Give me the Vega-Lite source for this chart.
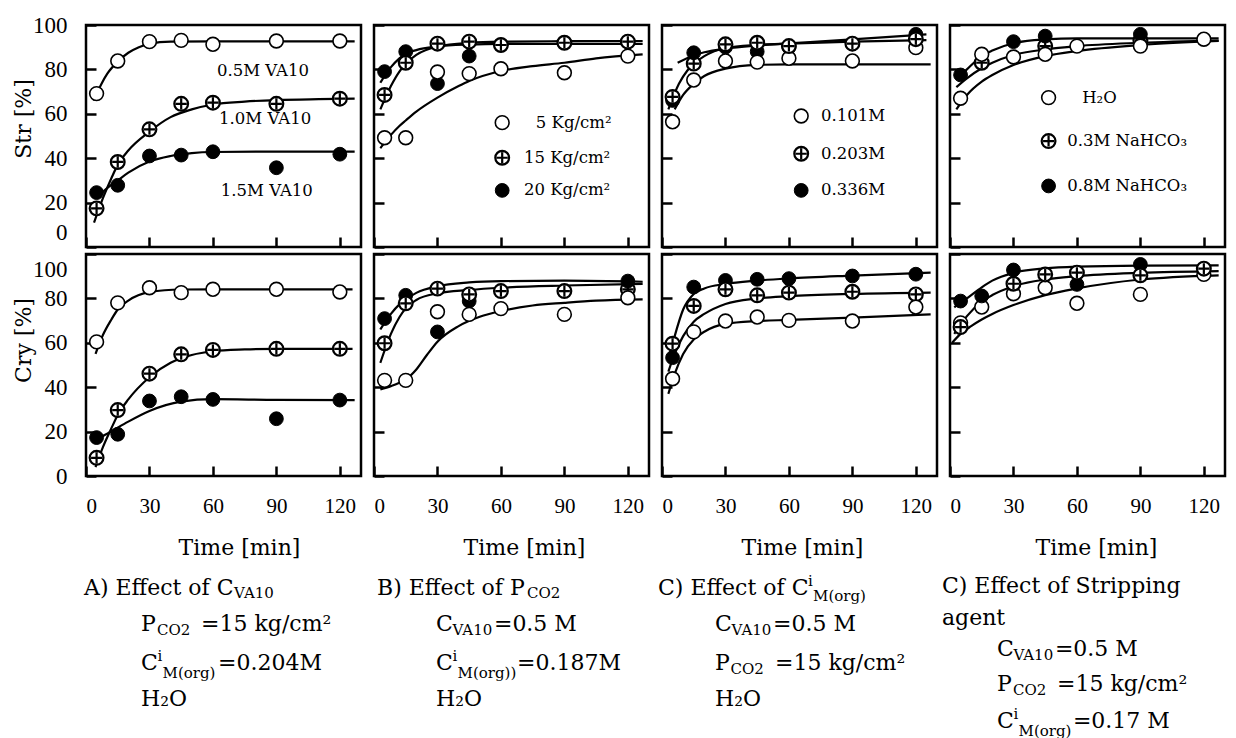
{
"$schema":"https://vega.github.io/schema/vega-lite/v6.json",
"background":"white",
"padding":{"left":11,"top":12,"right":5,"bottom":0},
"bounds":"flush",
"spacing":{"row":7,"column":13},
"columns":4,
"config":{
 "font":"DejaVu Serif",
 "view":{"stroke":"black","strokeWidth":2.5,"fill":"white"},
 "style":{"guide-label":{"font":"Liberation Serif","fill":"black"},"guide-title":{"font":"DejaVu Serif","fontWeight":"normal","fill":"black"}},
 "axis":{"domain":false,"grid":false,"ticks":true,"tickSize":-10,"tickWidth":2.5,"tickColor":"black","labelColor":"black","labelFont":"Liberation Serif","titleFont":"DejaVu Serif","titleFontWeight":"normal","titleColor":"black","titleFontSize":22},
 "axisX":{"labelFontSize":21,"labelPadding":29,"labelFont":"Liberation Serif","titleFont":"DejaVu Serif","titleFontWeight":"normal"},
 "axisY":{"labelFontSize":23,"labelPadding":29,"labelFont":"Liberation Serif","titleFont":"DejaVu Serif","titleFontWeight":"normal"}
},
"datasets":{"d":[
{"p":"A1","k":"c","s":"o","t":3.5,"v":66},{"p":"A1","k":"c","s":"o","t":10,"v":78},{"p":"A1","k":"c","s":"o","t":15,"v":83.5},{"p":"A1","k":"c","s":"o","t":20,"v":87.5},{"p":"A1","k":"c","s":"o","t":25,"v":90},{"p":"A1","k":"c","s":"o","t":30,"v":91.5},{"p":"A1","k":"c","s":"o","t":40,"v":92.5},{"p":"A1","k":"c","s":"o","t":60,"v":92.6},{"p":"A1","k":"c","s":"o","t":90,"v":92.6},{"p":"A1","k":"c","s":"o","t":127,"v":92.6},
{"p":"A1","k":"c","s":"x","t":3.8,"v":11},{"p":"A1","k":"c","s":"x","t":8,"v":22},{"p":"A1","k":"c","s":"x","t":12,"v":31},{"p":"A1","k":"c","s":"x","t":15,"v":37},{"p":"A1","k":"c","s":"x","t":20,"v":43.5},{"p":"A1","k":"c","s":"x","t":30,"v":52},{"p":"A1","k":"c","s":"x","t":40,"v":58.5},{"p":"A1","k":"c","s":"x","t":50,"v":62},{"p":"A1","k":"c","s":"x","t":60,"v":64.2},{"p":"A1","k":"c","s":"x","t":75,"v":65.5},{"p":"A1","k":"c","s":"x","t":90,"v":66.2},{"p":"A1","k":"c","s":"x","t":110,"v":66.6},{"p":"A1","k":"c","s":"x","t":127,"v":66.8},
{"p":"A1","k":"c","s":"f","t":5,"v":22},{"p":"A1","k":"c","s":"f","t":10,"v":26.5},{"p":"A1","k":"c","s":"f","t":15,"v":30},{"p":"A1","k":"c","s":"f","t":20,"v":33.5},{"p":"A1","k":"c","s":"f","t":30,"v":38.5},{"p":"A1","k":"c","s":"f","t":40,"v":41},{"p":"A1","k":"c","s":"f","t":50,"v":42.3},{"p":"A1","k":"c","s":"f","t":60,"v":42.8},{"p":"A1","k":"c","s":"f","t":90,"v":43},{"p":"A1","k":"c","s":"f","t":127,"v":43},
{"p":"A1","k":"p","s":"f","t":5,"v":24.5},{"p":"A1","k":"p","s":"f","t":15,"v":27.8},{"p":"A1","k":"p","s":"f","t":30,"v":41},{"p":"A1","k":"p","s":"f","t":45,"v":41.4},{"p":"A1","k":"p","s":"f","t":60,"v":42.9},{"p":"A1","k":"p","s":"f","t":90,"v":35.7},{"p":"A1","k":"p","s":"f","t":120,"v":41.8},
{"p":"A1","k":"p","s":"x","t":5,"v":17.4},{"p":"A1","k":"p","s":"x","t":15,"v":38.3},{"p":"A1","k":"p","s":"x","t":30,"v":53},{"p":"A1","k":"p","s":"x","t":45,"v":64.5},{"p":"A1","k":"p","s":"x","t":60,"v":65},{"p":"A1","k":"p","s":"x","t":90,"v":64.5},{"p":"A1","k":"p","s":"x","t":120,"v":66.8},
{"p":"A1","k":"p","s":"o","t":5,"v":69.1},{"p":"A1","k":"p","s":"o","t":15,"v":83.8},{"p":"A1","k":"p","s":"o","t":30,"v":92.5},{"p":"A1","k":"p","s":"o","t":45,"v":93.1},{"p":"A1","k":"p","s":"o","t":60,"v":91.3},{"p":"A1","k":"p","s":"o","t":90,"v":92.8},{"p":"A1","k":"p","s":"o","t":120,"v":92.8},
{"p":"A1","k":"kt","t":61.9,"v":79.3,"txt":"0.5M VA10"},{"p":"A1","k":"kt","t":62.9,"v":57.5,"txt":"1.0M VA10"},{"p":"A1","k":"kt","t":63.7,"v":25.2,"txt":"1.5M VA10"},

{"p":"B1","k":"c","s":"o","t":3,"v":44.5},{"p":"B1","k":"c","s":"o","t":8,"v":50.5},{"p":"B1","k":"c","s":"o","t":12,"v":54.5},{"p":"B1","k":"c","s":"o","t":15,"v":57},{"p":"B1","k":"c","s":"o","t":20,"v":61},{"p":"B1","k":"c","s":"o","t":30,"v":67.3},{"p":"B1","k":"c","s":"o","t":40,"v":72.5},{"p":"B1","k":"c","s":"o","t":45,"v":74.8},{"p":"B1","k":"c","s":"o","t":60,"v":79.3},{"p":"B1","k":"c","s":"o","t":75,"v":81.5},{"p":"B1","k":"c","s":"o","t":90,"v":83},{"p":"B1","k":"c","s":"o","t":105,"v":85},{"p":"B1","k":"c","s":"o","t":127,"v":86.8},
{"p":"B1","k":"c","s":"f","t":3,"v":74},{"p":"B1","k":"c","s":"f","t":8,"v":81},{"p":"B1","k":"c","s":"f","t":12,"v":85},{"p":"B1","k":"c","s":"f","t":15,"v":87},{"p":"B1","k":"c","s":"f","t":20,"v":88.7},{"p":"B1","k":"c","s":"f","t":30,"v":90.3},{"p":"B1","k":"c","s":"f","t":45,"v":91.2},{"p":"B1","k":"c","s":"f","t":60,"v":91.5},{"p":"B1","k":"c","s":"f","t":90,"v":91.5},{"p":"B1","k":"c","s":"f","t":127,"v":91.5},
{"p":"B1","k":"c","s":"x","t":3,"v":62},{"p":"B1","k":"c","s":"x","t":8,"v":72.5},{"p":"B1","k":"c","s":"x","t":12,"v":79},{"p":"B1","k":"c","s":"x","t":15,"v":82.5},{"p":"B1","k":"c","s":"x","t":20,"v":86.5},{"p":"B1","k":"c","s":"x","t":30,"v":90.3},{"p":"B1","k":"c","s":"x","t":45,"v":92},{"p":"B1","k":"c","s":"x","t":60,"v":92.5},{"p":"B1","k":"c","s":"x","t":90,"v":92.7},{"p":"B1","k":"c","s":"x","t":127,"v":92.8},
{"p":"B1","k":"p","s":"f","t":5,"v":79},{"p":"B1","k":"p","s":"f","t":15,"v":88},{"p":"B1","k":"p","s":"f","t":30,"v":73.6},{"p":"B1","k":"p","s":"f","t":45,"v":86},{"p":"B1","k":"p","s":"f","t":60,"v":91},{"p":"B1","k":"p","s":"f","t":90,"v":92},{"p":"B1","k":"p","s":"f","t":120,"v":92.5},
{"p":"B1","k":"p","s":"o","t":5,"v":49.2},{"p":"B1","k":"p","s":"o","t":15,"v":49.2},{"p":"B1","k":"p","s":"o","t":30,"v":78.8},{"p":"B1","k":"p","s":"o","t":45,"v":78.1},{"p":"B1","k":"p","s":"o","t":60,"v":80.3},{"p":"B1","k":"p","s":"o","t":90,"v":78.5},{"p":"B1","k":"p","s":"o","t":120,"v":86},
{"p":"B1","k":"p","s":"x","t":5,"v":68.5},{"p":"B1","k":"p","s":"x","t":15,"v":83},{"p":"B1","k":"p","s":"x","t":30,"v":91.6},{"p":"B1","k":"p","s":"x","t":45,"v":92.5},{"p":"B1","k":"p","s":"x","t":60,"v":91},{"p":"B1","k":"p","s":"x","t":90,"v":92},{"p":"B1","k":"p","s":"x","t":120,"v":92.5},
{"p":"B1","k":"p","s":"o","t":60.6,"v":56},{"p":"B1","k":"p","s":"x","t":60.6,"v":40.2},{"p":"B1","k":"p","s":"f","t":60.6,"v":25.5},
{"p":"B1","k":"kt","t":76.5,"v":56,"txt":"5 Kg/cm²"},{"p":"B1","k":"kt","t":70.9,"v":40.2,"txt":"15 Kg/cm²"},{"p":"B1","k":"kt","t":70.9,"v":25.5,"txt":"20 Kg/cm²"},

{"p":"C1","k":"c","s":"o","t":6,"v":62},{"p":"C1","k":"c","s":"o","t":10,"v":68.5},{"p":"C1","k":"c","s":"o","t":15,"v":73.5},{"p":"C1","k":"c","s":"o","t":20,"v":77},{"p":"C1","k":"c","s":"o","t":30,"v":80.3},{"p":"C1","k":"c","s":"o","t":45,"v":82},{"p":"C1","k":"c","s":"o","t":60,"v":82.3},{"p":"C1","k":"c","s":"o","t":90,"v":82.3},{"p":"C1","k":"c","s":"o","t":127,"v":82.3},
{"p":"C1","k":"c","s":"x","t":3,"v":62},{"p":"C1","k":"c","s":"x","t":8,"v":73.5},{"p":"C1","k":"c","s":"x","t":12,"v":79.5},{"p":"C1","k":"c","s":"x","t":15,"v":82.5},{"p":"C1","k":"c","s":"x","t":20,"v":86},{"p":"C1","k":"c","s":"x","t":30,"v":89.6},{"p":"C1","k":"c","s":"x","t":45,"v":91},{"p":"C1","k":"c","s":"x","t":60,"v":91.6},{"p":"C1","k":"c","s":"x","t":90,"v":92.5},{"p":"C1","k":"c","s":"x","t":125,"v":93.2},
{"p":"C1","k":"c","s":"f","t":7.4,"v":83},{"p":"C1","k":"c","s":"f","t":15,"v":86.3},{"p":"C1","k":"c","s":"f","t":20,"v":87.7},{"p":"C1","k":"c","s":"f","t":30,"v":89.4},{"p":"C1","k":"c","s":"f","t":45,"v":90.8},{"p":"C1","k":"c","s":"f","t":60,"v":91.7},{"p":"C1","k":"c","s":"f","t":90,"v":93.5},{"p":"C1","k":"c","s":"f","t":125,"v":95.8},
{"p":"C1","k":"p","s":"x","t":15,"v":82.6},
{"p":"C1","k":"p","s":"f","t":5,"v":66},{"p":"C1","k":"p","s":"f","t":15,"v":87.5},{"p":"C1","k":"p","s":"f","t":30,"v":90},{"p":"C1","k":"p","s":"f","t":45,"v":88},{"p":"C1","k":"p","s":"f","t":60,"v":90},{"p":"C1","k":"p","s":"f","t":90,"v":91.5},{"p":"C1","k":"p","s":"f","t":120,"v":95.8},
{"p":"C1","k":"p","s":"o","t":5,"v":56.4},{"p":"C1","k":"p","s":"o","t":15,"v":75.2},{"p":"C1","k":"p","s":"o","t":30,"v":83.8},{"p":"C1","k":"p","s":"o","t":45,"v":83.3},{"p":"C1","k":"p","s":"o","t":60,"v":85},{"p":"C1","k":"p","s":"o","t":90,"v":83.8},{"p":"C1","k":"p","s":"o","t":120,"v":89.8},
{"p":"C1","k":"p","s":"x","t":5,"v":67.6},{"p":"C1","k":"p","s":"x","t":30,"v":91.3},{"p":"C1","k":"p","s":"x","t":45,"v":92},{"p":"C1","k":"p","s":"x","t":60,"v":90.5},{"p":"C1","k":"p","s":"x","t":90,"v":91.6},{"p":"C1","k":"p","s":"x","t":120,"v":93.6},
{"p":"C1","k":"p","s":"o","t":65.8,"v":59},{"p":"C1","k":"p","s":"x","t":65.8,"v":42},{"p":"C1","k":"p","s":"f","t":65.8,"v":25.5},
{"p":"C1","k":"kt","t":75.2,"v":59,"txt":"0.101M"},{"p":"C1","k":"kt","t":75.2,"v":42,"txt":"0.203M"},{"p":"C1","k":"kt","t":75.2,"v":25.5,"txt":"0.336M"},

{"p":"D1","k":"c","s":"f","t":3,"v":75.5},{"p":"D1","k":"c","s":"f","t":8,"v":80},{"p":"D1","k":"c","s":"f","t":15,"v":86},{"p":"D1","k":"c","s":"f","t":20,"v":88.5},{"p":"D1","k":"c","s":"f","t":30,"v":91.8},{"p":"D1","k":"c","s":"f","t":45,"v":93.5},{"p":"D1","k":"c","s":"f","t":60,"v":94},{"p":"D1","k":"c","s":"f","t":90,"v":94},{"p":"D1","k":"c","s":"f","t":127,"v":94},
{"p":"D1","k":"c","s":"x","t":3,"v":72},{"p":"D1","k":"c","s":"x","t":8,"v":76},{"p":"D1","k":"c","s":"x","t":15,"v":80.5},{"p":"D1","k":"c","s":"x","t":20,"v":83},{"p":"D1","k":"c","s":"x","t":30,"v":86.5},{"p":"D1","k":"c","s":"x","t":45,"v":89},{"p":"D1","k":"c","s":"x","t":60,"v":90.5},{"p":"D1","k":"c","s":"x","t":90,"v":92},{"p":"D1","k":"c","s":"x","t":127,"v":93},
{"p":"D1","k":"c","s":"o","t":3,"v":62},{"p":"D1","k":"c","s":"o","t":8,"v":68.5},{"p":"D1","k":"c","s":"o","t":15,"v":74.5},{"p":"D1","k":"c","s":"o","t":20,"v":77.5},{"p":"D1","k":"c","s":"o","t":30,"v":82},{"p":"D1","k":"c","s":"o","t":45,"v":86},{"p":"D1","k":"c","s":"o","t":60,"v":88.3},{"p":"D1","k":"c","s":"o","t":90,"v":91},{"p":"D1","k":"c","s":"o","t":127,"v":92.8},
{"p":"D1","k":"p","s":"x","t":15,"v":83},{"p":"D1","k":"p","s":"x","t":45,"v":90.5},{"p":"D1","k":"p","s":"x","t":90,"v":93},
{"p":"D1","k":"p","s":"f","t":5,"v":77.5},{"p":"D1","k":"p","s":"f","t":30,"v":92.5},{"p":"D1","k":"p","s":"f","t":45,"v":95},{"p":"D1","k":"p","s":"f","t":90,"v":95.8},
{"p":"D1","k":"p","s":"o","t":5,"v":67},{"p":"D1","k":"p","s":"o","t":15,"v":86.8},{"p":"D1","k":"p","s":"o","t":30,"v":85.6},{"p":"D1","k":"p","s":"o","t":45,"v":86.8},{"p":"D1","k":"p","s":"o","t":60,"v":90.5},{"p":"D1","k":"p","s":"o","t":90,"v":90.5},{"p":"D1","k":"p","s":"o","t":120,"v":93.6},
{"p":"D1","k":"p","s":"o","t":46.6,"v":67.3},{"p":"D1","k":"p","s":"x","t":46.6,"v":47.7},{"p":"D1","k":"p","s":"f","t":46.6,"v":27.5},
{"p":"D1","k":"kt","t":62.5,"v":67.3,"txt":"H₂O"},{"p":"D1","k":"kt","t":55.4,"v":47.7,"txt":"0.3M NaHCO₃"},{"p":"D1","k":"kt","t":55.4,"v":27.5,"txt":"0.8M NaHCO₃"},

{"p":"A2","k":"c","s":"o","t":4.5,"v":55},{"p":"A2","k":"c","s":"o","t":8,"v":63.5},{"p":"A2","k":"c","s":"o","t":12,"v":70.5},{"p":"A2","k":"c","s":"o","t":15,"v":75},{"p":"A2","k":"c","s":"o","t":20,"v":79},{"p":"A2","k":"c","s":"o","t":30,"v":82.8},{"p":"A2","k":"c","s":"o","t":45,"v":84},{"p":"A2","k":"c","s":"o","t":60,"v":84.1},{"p":"A2","k":"c","s":"o","t":90,"v":84.1},{"p":"A2","k":"c","s":"o","t":126,"v":84.1},
{"p":"A2","k":"c","s":"x","t":4.5,"v":4},{"p":"A2","k":"c","s":"x","t":8,"v":13},{"p":"A2","k":"c","s":"x","t":12,"v":21.5},{"p":"A2","k":"c","s":"x","t":15,"v":27.5},{"p":"A2","k":"c","s":"x","t":20,"v":34.5},{"p":"A2","k":"c","s":"x","t":30,"v":44.5},{"p":"A2","k":"c","s":"x","t":40,"v":51},{"p":"A2","k":"c","s":"x","t":50,"v":54.5},{"p":"A2","k":"c","s":"x","t":60,"v":56.2},{"p":"A2","k":"c","s":"x","t":75,"v":57},{"p":"A2","k":"c","s":"x","t":90,"v":57.3},{"p":"A2","k":"c","s":"x","t":126,"v":57.3},
{"p":"A2","k":"c","s":"f","t":5,"v":16.5},{"p":"A2","k":"c","s":"f","t":10,"v":19},{"p":"A2","k":"c","s":"f","t":15,"v":21.8},{"p":"A2","k":"c","s":"f","t":20,"v":24.5},{"p":"A2","k":"c","s":"f","t":30,"v":29.3},{"p":"A2","k":"c","s":"f","t":45,"v":33.5},{"p":"A2","k":"c","s":"f","t":60,"v":34.6},{"p":"A2","k":"c","s":"f","t":90,"v":34.3},{"p":"A2","k":"c","s":"f","t":127,"v":34.2},
{"p":"A2","k":"p","s":"f","t":5,"v":17.3},{"p":"A2","k":"p","s":"f","t":15,"v":18.8},{"p":"A2","k":"p","s":"f","t":30,"v":33.8},{"p":"A2","k":"p","s":"f","t":45,"v":35.7},{"p":"A2","k":"p","s":"f","t":60,"v":34.5},{"p":"A2","k":"p","s":"f","t":90,"v":25.8},{"p":"A2","k":"p","s":"f","t":120,"v":34.2},
{"p":"A2","k":"p","s":"x","t":5,"v":8.2},{"p":"A2","k":"p","s":"x","t":15,"v":29.7},{"p":"A2","k":"p","s":"x","t":30,"v":46.1},{"p":"A2","k":"p","s":"x","t":45,"v":54.8},{"p":"A2","k":"p","s":"x","t":60,"v":56.8},{"p":"A2","k":"p","s":"x","t":90,"v":57.3},{"p":"A2","k":"p","s":"x","t":120,"v":57.3},
{"p":"A2","k":"p","s":"o","t":5,"v":60.4},{"p":"A2","k":"p","s":"o","t":15,"v":78},{"p":"A2","k":"p","s":"o","t":30,"v":84.8},{"p":"A2","k":"p","s":"o","t":45,"v":82.6},{"p":"A2","k":"p","s":"o","t":60,"v":84.1},{"p":"A2","k":"p","s":"o","t":90,"v":84.1},{"p":"A2","k":"p","s":"o","t":120,"v":82.9},
{"p":"A2","k":"m","t":-0.95,"v":-50.5,"txt":"A) Effect of C"},{"p":"A2","k":"s","t":70,"v":-52.7,"txt":"VA10"},
{"p":"A2","k":"m","t":26,"v":-66.7,"txt":"P"},{"p":"A2","k":"s","t":33.6,"v":-69.4,"txt":"CO2"},{"p":"A2","k":"m","t":54.4,"v":-66.7,"txt":"=15 kg/cm²"},
{"p":"A2","k":"m","t":26,"v":-84.2,"txt":"C"},{"p":"A2","k":"s","t":33.8,"v":-81,"txt":"i"},{"p":"A2","k":"s","t":36.2,"v":-88.7,"txt":"M(org)"},{"p":"A2","k":"m","t":62.4,"v":-84.2,"txt":"=0.204M"},
{"p":"A2","k":"m","t":26,"v":-100.5,"txt":"H₂O"},

{"p":"B2","k":"c","s":"o","t":3,"v":39},{"p":"B2","k":"c","s":"o","t":8,"v":40.5},{"p":"B2","k":"c","s":"o","t":12,"v":42},{"p":"B2","k":"c","s":"o","t":15,"v":43.5},{"p":"B2","k":"c","s":"o","t":20,"v":48},{"p":"B2","k":"c","s":"o","t":25,"v":54.5},{"p":"B2","k":"c","s":"o","t":30,"v":60.5},{"p":"B2","k":"c","s":"o","t":40,"v":67.5},{"p":"B2","k":"c","s":"o","t":50,"v":71.7},{"p":"B2","k":"c","s":"o","t":60,"v":74.3},{"p":"B2","k":"c","s":"o","t":75,"v":76.8},{"p":"B2","k":"c","s":"o","t":90,"v":78},{"p":"B2","k":"c","s":"o","t":105,"v":79},{"p":"B2","k":"c","s":"o","t":127,"v":79.6},
{"p":"B2","k":"c","s":"f","t":3,"v":66},{"p":"B2","k":"c","s":"f","t":8,"v":73},{"p":"B2","k":"c","s":"f","t":12,"v":77.3},{"p":"B2","k":"c","s":"f","t":15,"v":79.5},{"p":"B2","k":"c","s":"f","t":20,"v":82.5},{"p":"B2","k":"c","s":"f","t":30,"v":85.5},{"p":"B2","k":"c","s":"f","t":45,"v":87.2},{"p":"B2","k":"c","s":"f","t":60,"v":87.8},{"p":"B2","k":"c","s":"f","t":90,"v":88},{"p":"B2","k":"c","s":"f","t":127,"v":87.5},
{"p":"B2","k":"c","s":"x","t":3,"v":51},{"p":"B2","k":"c","s":"x","t":8,"v":64},{"p":"B2","k":"c","s":"x","t":12,"v":71.5},{"p":"B2","k":"c","s":"x","t":15,"v":75.5},{"p":"B2","k":"c","s":"x","t":20,"v":79.3},{"p":"B2","k":"c","s":"x","t":30,"v":82.3},{"p":"B2","k":"c","s":"x","t":45,"v":83.8},{"p":"B2","k":"c","s":"x","t":60,"v":84.8},{"p":"B2","k":"c","s":"x","t":90,"v":85.8},{"p":"B2","k":"c","s":"x","t":127,"v":86.5},
{"p":"B2","k":"p","s":"x","t":120,"v":84.1},
{"p":"B2","k":"p","s":"f","t":5,"v":70.9},{"p":"B2","k":"p","s":"f","t":15,"v":81.4},{"p":"B2","k":"p","s":"f","t":30,"v":64.9},{"p":"B2","k":"p","s":"f","t":45,"v":78.8},{"p":"B2","k":"p","s":"f","t":120,"v":87.8},
{"p":"B2","k":"p","s":"x","t":5,"v":59.8},{"p":"B2","k":"p","s":"x","t":15,"v":77.8},{"p":"B2","k":"p","s":"x","t":30,"v":84.4},{"p":"B2","k":"p","s":"x","t":45,"v":81.8},{"p":"B2","k":"p","s":"x","t":60,"v":83.3},{"p":"B2","k":"p","s":"x","t":90,"v":83.3},
{"p":"B2","k":"p","s":"o","t":5,"v":43.1},{"p":"B2","k":"p","s":"o","t":15,"v":43.1},{"p":"B2","k":"p","s":"o","t":30,"v":74},{"p":"B2","k":"p","s":"o","t":45,"v":72.8},{"p":"B2","k":"p","s":"o","t":60,"v":75.4},{"p":"B2","k":"p","s":"o","t":90,"v":72.8},{"p":"B2","k":"p","s":"o","t":120,"v":80.3},
{"p":"B2","k":"m","t":1.4,"v":-50.5,"txt":"B) Effect of P"},{"p":"B2","k":"s","t":72.3,"v":-52.7,"txt":"CO2"},
{"p":"B2","k":"m","t":29.3,"v":-66.7,"txt":"C"},{"p":"B2","k":"s","t":37.1,"v":-69.4,"txt":"VA10"},{"p":"B2","k":"m","t":56.7,"v":-66.7,"txt":"=0.5 M"},
{"p":"B2","k":"m","t":29.3,"v":-84.2,"txt":"C"},{"p":"B2","k":"s","t":37.1,"v":-81,"txt":"i"},{"p":"B2","k":"s","t":39.5,"v":-88.7,"txt":"M(org))"},{"p":"B2","k":"m","t":67.6,"v":-84.2,"txt":"=0.187M"},
{"p":"B2","k":"m","t":29.3,"v":-100.5,"txt":"H₂O"},

{"p":"C2","k":"c","s":"f","t":3,"v":52},{"p":"C2","k":"c","s":"f","t":6,"v":63},{"p":"C2","k":"c","s":"f","t":10,"v":75},{"p":"C2","k":"c","s":"f","t":15,"v":82},{"p":"C2","k":"c","s":"f","t":20,"v":84.5},{"p":"C2","k":"c","s":"f","t":30,"v":86.5},{"p":"C2","k":"c","s":"f","t":45,"v":88},{"p":"C2","k":"c","s":"f","t":60,"v":89},{"p":"C2","k":"c","s":"f","t":90,"v":90.3},{"p":"C2","k":"c","s":"f","t":127,"v":91.6},
{"p":"C2","k":"c","s":"x","t":3,"v":47},{"p":"C2","k":"c","s":"x","t":6,"v":55},{"p":"C2","k":"c","s":"x","t":10,"v":63},{"p":"C2","k":"c","s":"x","t":15,"v":69.5},{"p":"C2","k":"c","s":"x","t":20,"v":73},{"p":"C2","k":"c","s":"x","t":30,"v":77.5},{"p":"C2","k":"c","s":"x","t":45,"v":80},{"p":"C2","k":"c","s":"x","t":60,"v":81},{"p":"C2","k":"c","s":"x","t":90,"v":82},{"p":"C2","k":"c","s":"x","t":127,"v":82.6},
{"p":"C2","k":"c","s":"o","t":3,"v":37},{"p":"C2","k":"c","s":"o","t":6,"v":46},{"p":"C2","k":"c","s":"o","t":10,"v":55},{"p":"C2","k":"c","s":"o","t":15,"v":61.5},{"p":"C2","k":"c","s":"o","t":20,"v":65},{"p":"C2","k":"c","s":"o","t":30,"v":68.5},{"p":"C2","k":"c","s":"o","t":45,"v":69.8},{"p":"C2","k":"c","s":"o","t":60,"v":70.3},{"p":"C2","k":"c","s":"o","t":90,"v":71.3},{"p":"C2","k":"c","s":"o","t":127,"v":72.8},
{"p":"C2","k":"p","s":"f","t":5,"v":53.3},{"p":"C2","k":"p","s":"f","t":15,"v":85.1},{"p":"C2","k":"p","s":"f","t":30,"v":88.1},{"p":"C2","k":"p","s":"f","t":45,"v":88.6},{"p":"C2","k":"p","s":"f","t":60,"v":88.9},{"p":"C2","k":"p","s":"f","t":90,"v":90.1},{"p":"C2","k":"p","s":"f","t":120,"v":90.9},
{"p":"C2","k":"p","s":"x","t":5,"v":59.6},{"p":"C2","k":"p","s":"x","t":15,"v":76.6},{"p":"C2","k":"p","s":"x","t":30,"v":84.1},{"p":"C2","k":"p","s":"x","t":45,"v":81.4},{"p":"C2","k":"p","s":"x","t":60,"v":82.6},{"p":"C2","k":"p","s":"x","t":90,"v":83},{"p":"C2","k":"p","s":"x","t":120,"v":81.8},
{"p":"C2","k":"p","s":"o","t":5,"v":43.8},{"p":"C2","k":"p","s":"o","t":15,"v":64.9},{"p":"C2","k":"p","s":"o","t":30,"v":69.8},{"p":"C2","k":"p","s":"o","t":45,"v":71.6},{"p":"C2","k":"p","s":"o","t":60,"v":70.1},{"p":"C2","k":"p","s":"o","t":90,"v":69.8},{"p":"C2","k":"p","s":"o","t":120,"v":76.1},
{"p":"C2","k":"m","t":-1.9,"v":-50.5,"txt":"C) Effect of C"},{"p":"C2","k":"s","t":69,"v":-47.3,"txt":"i"},{"p":"C2","k":"s","t":71.4,"v":-54,"txt":"M(org)"},
{"p":"C2","k":"m","t":25.1,"v":-66.7,"txt":"C"},{"p":"C2","k":"s","t":32.9,"v":-69.4,"txt":"VA10"},{"p":"C2","k":"m","t":52.5,"v":-66.7,"txt":"=0.5 M"},
{"p":"C2","k":"m","t":25.1,"v":-84.2,"txt":"P"},{"p":"C2","k":"s","t":32.4,"v":-86.9,"txt":"CO2"},{"p":"C2","k":"m","t":53.4,"v":-84.2,"txt":"=15 kg/cm²"},
{"p":"C2","k":"m","t":25.1,"v":-100.5,"txt":"H₂O"},

{"p":"D2","k":"c","s":"f","t":2,"v":76},{"p":"D2","k":"c","s":"f","t":8,"v":80},{"p":"D2","k":"c","s":"f","t":15,"v":85},{"p":"D2","k":"c","s":"f","t":20,"v":88},{"p":"D2","k":"c","s":"f","t":30,"v":91.5},{"p":"D2","k":"c","s":"f","t":45,"v":93.5},{"p":"D2","k":"c","s":"f","t":60,"v":94.3},{"p":"D2","k":"c","s":"f","t":90,"v":94.8},{"p":"D2","k":"c","s":"f","t":127,"v":94.9},
{"p":"D2","k":"c","s":"x","t":2,"v":64},{"p":"D2","k":"c","s":"x","t":8,"v":72},{"p":"D2","k":"c","s":"x","t":15,"v":78.5},{"p":"D2","k":"c","s":"x","t":20,"v":81.5},{"p":"D2","k":"c","s":"x","t":30,"v":85.5},{"p":"D2","k":"c","s":"x","t":45,"v":88.5},{"p":"D2","k":"c","s":"x","t":60,"v":90},{"p":"D2","k":"c","s":"x","t":90,"v":91.5},{"p":"D2","k":"c","s":"x","t":127,"v":92.3},
{"p":"D2","k":"c","s":"o","t":1,"v":60},{"p":"D2","k":"c","s":"o","t":5,"v":64},{"p":"D2","k":"c","s":"o","t":10,"v":67.5},{"p":"D2","k":"c","s":"o","t":15,"v":70.5},{"p":"D2","k":"c","s":"o","t":20,"v":73},{"p":"D2","k":"c","s":"o","t":30,"v":77},{"p":"D2","k":"c","s":"o","t":45,"v":81.5},{"p":"D2","k":"c","s":"o","t":60,"v":84.5},{"p":"D2","k":"c","s":"o","t":90,"v":88.5},{"p":"D2","k":"c","s":"o","t":127,"v":90.4},
{"p":"D2","k":"p","s":"o","t":5,"v":69},{"p":"D2","k":"p","s":"o","t":15,"v":76.1},{"p":"D2","k":"p","s":"o","t":30,"v":82.1},{"p":"D2","k":"p","s":"o","t":45,"v":84.8},{"p":"D2","k":"p","s":"o","t":60,"v":77.8},{"p":"D2","k":"p","s":"o","t":90,"v":81.8},{"p":"D2","k":"p","s":"o","t":120,"v":90.8},
{"p":"D2","k":"p","s":"f","t":5,"v":78.8},{"p":"D2","k":"p","s":"f","t":15,"v":81.1},{"p":"D2","k":"p","s":"f","t":30,"v":92.8},{"p":"D2","k":"p","s":"f","t":60,"v":86.3},{"p":"D2","k":"p","s":"f","t":90,"v":95.3},
{"p":"D2","k":"p","s":"x","t":5,"v":67.1},{"p":"D2","k":"p","s":"x","t":30,"v":86.6},{"p":"D2","k":"p","s":"x","t":45,"v":90.8},{"p":"D2","k":"p","s":"x","t":60,"v":91.6},{"p":"D2","k":"p","s":"x","t":90,"v":90.4},{"p":"D2","k":"p","s":"x","t":120,"v":93.4},
{"p":"D2","k":"m","t":-3.8,"v":-49.5,"txt":"C) Effect of Stripping"},{"p":"D2","k":"m","t":-3.8,"v":-63.9,"txt":"agent"},
{"p":"D2","k":"m","t":22.2,"v":-77.9,"txt":"C"},{"p":"D2","k":"s","t":30,"v":-80.6,"txt":"VA10"},{"p":"D2","k":"m","t":49.6,"v":-77.9,"txt":"=0.5 M"},
{"p":"D2","k":"m","t":22.2,"v":-93.7,"txt":"P"},{"p":"D2","k":"s","t":29.8,"v":-96.4,"txt":"CO2"},{"p":"D2","k":"m","t":50.6,"v":-93.7,"txt":"=15 kg/cm²"},
{"p":"D2","k":"m","t":22.2,"v":-110.4,"txt":"C"},{"p":"D2","k":"s","t":30,"v":-107.2,"txt":"i"},{"p":"D2","k":"s","t":32.4,"v":-114.9,"txt":"M(org)"},{"p":"D2","k":"m","t":58.1,"v":-110.4,"txt":"=0.17 M"}
]},
"concat":[
{"width":275,"height":222,"data":{"name":"d"},"transform":[{"filter":"datum.p==='A1'"}],
 "encoding":{"x":{"field":"t","type":"quantitative","scale":{"domain":[0,130],"nice":false,"zero":false},"axis":{"values":[0,30,60,90,120],"labels":false,"title":null}},
  "y":{"field":"v","type":"quantitative","scale":{"domain":[0,100],"nice":false,"zero":false},"axis":{"values":[0,20,40,60,80,100],"labelFont":"Liberation Serif","labelFontSize":23,"title":"Str [%]","titleFont":"DejaVu Serif","titleFontWeight":"normal","titleFontSize":22,"titleX":-55.5,"titleY":93.5,"titleBaseline":"alphabetic","labelOffset":{"condition":{"test":"datum.value===0","value":-15},"value":0}}}},
 "layer":[
  {"transform":[{"filter":"datum.k==='c'"}],"mark":{"type":"line","interpolate":"monotone","color":"black","strokeWidth":2.2},"encoding":{"detail":{"field":"s","type":"nominal"}}},
  {"transform":[{"filter":"datum.k==='p'"}],"mark":{"type":"point","filled":true,"size":190,"stroke":"black","opacity":1,"strokeOpacity":1,"fillOpacity":1},"encoding":{"shape":{"field":"s","type":"nominal","scale":{"domain":["f","o","x"],"range":["circle","circle","M-1,0A1,1,0,1,0,1,0A1,1,0,1,0,-1,0ZM-0.8,0H0.8M0,-0.8V0.8"]},"legend":null},"fill":{"field":"s","type":"nominal","scale":{"domain":["f","o","x"],"range":["black","white","white"]},"legend":null},"strokeWidth":{"field":"s","type":"ordinal","scale":{"domain":["f","o","x"],"range":[1,2.2,2]},"legend":null}}},
  {"transform":[{"filter":"datum.k==='kt'"}],"mark":{"type":"text","align":"left","baseline":"middle","font":"DejaVu Serif","fontSize":16.5,"color":"black"},"encoding":{"text":{"field":"txt","type":"nominal"}}}
 ]},
{"width":275,"height":222,"data":{"name":"d"},"transform":[{"filter":"datum.p==='B1'"}],
 "encoding":{"x":{"field":"t","type":"quantitative","scale":{"domain":[0,130],"nice":false,"zero":false},"axis":{"values":[0,30,60,90,120],"labels":false,"title":null}},
  "y":{"field":"v","type":"quantitative","scale":{"domain":[0,100],"nice":false,"zero":false},"axis":{"values":[0,20,40,60,80,100],"labels":false,"title":null}}},
 "layer":[
  {"transform":[{"filter":"datum.k==='c'"}],"mark":{"type":"line","interpolate":"monotone","color":"black","strokeWidth":2.2},"encoding":{"detail":{"field":"s","type":"nominal"}}},
  {"transform":[{"filter":"datum.k==='p'"}],"mark":{"type":"point","filled":true,"size":190,"stroke":"black","opacity":1,"strokeOpacity":1,"fillOpacity":1},"encoding":{"shape":{"field":"s","type":"nominal","scale":{"domain":["f","o","x"],"range":["circle","circle","M-1,0A1,1,0,1,0,1,0A1,1,0,1,0,-1,0ZM-0.8,0H0.8M0,-0.8V0.8"]},"legend":null},"fill":{"field":"s","type":"nominal","scale":{"domain":["f","o","x"],"range":["black","white","white"]},"legend":null},"strokeWidth":{"field":"s","type":"ordinal","scale":{"domain":["f","o","x"],"range":[1,2.2,2]},"legend":null}}},
  {"transform":[{"filter":"datum.k==='kt'"}],"mark":{"type":"text","align":"left","baseline":"middle","font":"DejaVu Serif","fontSize":16.5,"color":"black"},"encoding":{"text":{"field":"txt","type":"nominal"}}}
 ]},
{"width":275,"height":222,"data":{"name":"d"},"transform":[{"filter":"datum.p==='C1'"}],
 "encoding":{"x":{"field":"t","type":"quantitative","scale":{"domain":[0,130],"nice":false,"zero":false},"axis":{"values":[0,30,60,90,120],"labels":false,"title":null}},
  "y":{"field":"v","type":"quantitative","scale":{"domain":[0,100],"nice":false,"zero":false},"axis":{"values":[0,20,40,60,80,100],"labels":false,"title":null}}},
 "layer":[
  {"transform":[{"filter":"datum.k==='c'"}],"mark":{"type":"line","interpolate":"monotone","color":"black","strokeWidth":2.2},"encoding":{"detail":{"field":"s","type":"nominal"}}},
  {"transform":[{"filter":"datum.k==='p'"}],"mark":{"type":"point","filled":true,"size":190,"stroke":"black","opacity":1,"strokeOpacity":1,"fillOpacity":1},"encoding":{"shape":{"field":"s","type":"nominal","scale":{"domain":["f","o","x"],"range":["circle","circle","M-1,0A1,1,0,1,0,1,0A1,1,0,1,0,-1,0ZM-0.8,0H0.8M0,-0.8V0.8"]},"legend":null},"fill":{"field":"s","type":"nominal","scale":{"domain":["f","o","x"],"range":["black","white","white"]},"legend":null},"strokeWidth":{"field":"s","type":"ordinal","scale":{"domain":["f","o","x"],"range":[1,2.2,2]},"legend":null}}},
  {"transform":[{"filter":"datum.k==='kt'"}],"mark":{"type":"text","align":"left","baseline":"middle","font":"DejaVu Serif","fontSize":16.5,"color":"black"},"encoding":{"text":{"field":"txt","type":"nominal"}}}
 ]},
{"width":275,"height":222,"data":{"name":"d"},"transform":[{"filter":"datum.p==='D1'"}],
 "encoding":{"x":{"field":"t","type":"quantitative","scale":{"domain":[0,130],"nice":false,"zero":false},"axis":{"values":[0,30,60,90,120],"labels":false,"title":null}},
  "y":{"field":"v","type":"quantitative","scale":{"domain":[0,100],"nice":false,"zero":false},"axis":{"values":[0,20,40,60,80,100],"labels":false,"title":null}}},
 "layer":[
  {"transform":[{"filter":"datum.k==='c'"}],"mark":{"type":"line","interpolate":"monotone","color":"black","strokeWidth":2.2},"encoding":{"detail":{"field":"s","type":"nominal"}}},
  {"transform":[{"filter":"datum.k==='p'"}],"mark":{"type":"point","filled":true,"size":190,"stroke":"black","opacity":1,"strokeOpacity":1,"fillOpacity":1},"encoding":{"shape":{"field":"s","type":"nominal","scale":{"domain":["f","o","x"],"range":["circle","circle","M-1,0A1,1,0,1,0,1,0A1,1,0,1,0,-1,0ZM-0.8,0H0.8M0,-0.8V0.8"]},"legend":null},"fill":{"field":"s","type":"nominal","scale":{"domain":["f","o","x"],"range":["black","white","white"]},"legend":null},"strokeWidth":{"field":"s","type":"ordinal","scale":{"domain":["f","o","x"],"range":[1,2.2,2]},"legend":null}}},
  {"transform":[{"filter":"datum.k==='kt'"}],"mark":{"type":"text","align":"left","baseline":"middle","font":"DejaVu Serif","fontSize":16.5,"color":"black"},"encoding":{"text":{"field":"txt","type":"nominal"}}}
 ]},
{"width":275,"height":222,"data":{"name":"d"},"transform":[{"filter":"datum.p==='A2'"}],
 "encoding":{"x":{"field":"t","type":"quantitative","scale":{"domain":[0,130],"nice":false,"zero":false},"axis":{"values":[0,30,60,90,120],"labelFont":"Liberation Serif","labelFontSize":21,"title":"Time [min]","titleFont":"DejaVu Serif","titleFontWeight":"normal","titleFontSize":22,"titleX":153,"titleY":78,"titleBaseline":"alphabetic"}},
  "y":{"field":"v","type":"quantitative","scale":{"domain":[0,100],"nice":false,"zero":false},"axis":{"values":[0,20,40,60,80,100],"labelFont":"Liberation Serif","labelFontSize":23,"title":"Cry [%]","titleFont":"DejaVu Serif","titleFontWeight":"normal","titleFontSize":22,"titleX":-55.5,"titleY":86,"titleBaseline":"alphabetic","labelOffset":{"condition":{"test":"datum.value===100","value":15},"value":0}}}},
 "layer":[
  {"transform":[{"filter":"datum.k==='c'"}],"mark":{"type":"line","interpolate":"monotone","color":"black","strokeWidth":2.2},"encoding":{"detail":{"field":"s","type":"nominal"}}},
  {"transform":[{"filter":"datum.k==='p'"}],"mark":{"type":"point","filled":true,"size":190,"stroke":"black","opacity":1,"strokeOpacity":1,"fillOpacity":1},"encoding":{"shape":{"field":"s","type":"nominal","scale":{"domain":["f","o","x"],"range":["circle","circle","M-1,0A1,1,0,1,0,1,0A1,1,0,1,0,-1,0ZM-0.8,0H0.8M0,-0.8V0.8"]},"legend":null},"fill":{"field":"s","type":"nominal","scale":{"domain":["f","o","x"],"range":["black","white","white"]},"legend":null},"strokeWidth":{"field":"s","type":"ordinal","scale":{"domain":["f","o","x"],"range":[1,2.2,2]},"legend":null}}},
  {"transform":[{"filter":"datum.k==='m'"}],"mark":{"type":"text","align":"left","baseline":"middle","font":"DejaVu Serif","fontSize":22,"color":"black"},"encoding":{"text":{"field":"txt","type":"nominal"}}},
  {"transform":[{"filter":"datum.k==='s'"}],"mark":{"type":"text","align":"left","baseline":"middle","font":"DejaVu Serif","fontSize":15,"color":"black"},"encoding":{"text":{"field":"txt","type":"nominal"}}}
 ]},
{"width":275,"height":222,"data":{"name":"d"},"transform":[{"filter":"datum.p==='B2'"}],
 "encoding":{"x":{"field":"t","type":"quantitative","scale":{"domain":[0,130],"nice":false,"zero":false},"axis":{"values":[0,30,60,90,120],"labelFont":"Liberation Serif","labelFontSize":21,"title":"Time [min]","titleFont":"DejaVu Serif","titleFontWeight":"normal","titleFontSize":22,"titleX":150,"titleY":78,"titleBaseline":"alphabetic"}},
  "y":{"field":"v","type":"quantitative","scale":{"domain":[0,100],"nice":false,"zero":false},"axis":{"values":[0,20,40,60,80,100],"labels":false,"title":null}}},
 "layer":[
  {"transform":[{"filter":"datum.k==='c'"}],"mark":{"type":"line","interpolate":"monotone","color":"black","strokeWidth":2.2},"encoding":{"detail":{"field":"s","type":"nominal"}}},
  {"transform":[{"filter":"datum.k==='p'"}],"mark":{"type":"point","filled":true,"size":190,"stroke":"black","opacity":1,"strokeOpacity":1,"fillOpacity":1},"encoding":{"shape":{"field":"s","type":"nominal","scale":{"domain":["f","o","x"],"range":["circle","circle","M-1,0A1,1,0,1,0,1,0A1,1,0,1,0,-1,0ZM-0.8,0H0.8M0,-0.8V0.8"]},"legend":null},"fill":{"field":"s","type":"nominal","scale":{"domain":["f","o","x"],"range":["black","white","white"]},"legend":null},"strokeWidth":{"field":"s","type":"ordinal","scale":{"domain":["f","o","x"],"range":[1,2.2,2]},"legend":null}}},
  {"transform":[{"filter":"datum.k==='m'"}],"mark":{"type":"text","align":"left","baseline":"middle","font":"DejaVu Serif","fontSize":22,"color":"black"},"encoding":{"text":{"field":"txt","type":"nominal"}}},
  {"transform":[{"filter":"datum.k==='s'"}],"mark":{"type":"text","align":"left","baseline":"middle","font":"DejaVu Serif","fontSize":15,"color":"black"},"encoding":{"text":{"field":"txt","type":"nominal"}}}
 ]},
{"width":275,"height":222,"data":{"name":"d"},"transform":[{"filter":"datum.p==='C2'"}],
 "encoding":{"x":{"field":"t","type":"quantitative","scale":{"domain":[0,130],"nice":false,"zero":false},"axis":{"values":[0,30,60,90,120],"labelFont":"Liberation Serif","labelFontSize":21,"title":"Time [min]","titleFont":"DejaVu Serif","titleFontWeight":"normal","titleFontSize":22,"titleX":140,"titleY":78,"titleBaseline":"alphabetic"}},
  "y":{"field":"v","type":"quantitative","scale":{"domain":[0,100],"nice":false,"zero":false},"axis":{"values":[0,20,40,60,80,100],"labels":false,"title":null}}},
 "layer":[
  {"transform":[{"filter":"datum.k==='c'"}],"mark":{"type":"line","interpolate":"monotone","color":"black","strokeWidth":2.2},"encoding":{"detail":{"field":"s","type":"nominal"}}},
  {"transform":[{"filter":"datum.k==='p'"}],"mark":{"type":"point","filled":true,"size":190,"stroke":"black","opacity":1,"strokeOpacity":1,"fillOpacity":1},"encoding":{"shape":{"field":"s","type":"nominal","scale":{"domain":["f","o","x"],"range":["circle","circle","M-1,0A1,1,0,1,0,1,0A1,1,0,1,0,-1,0ZM-0.8,0H0.8M0,-0.8V0.8"]},"legend":null},"fill":{"field":"s","type":"nominal","scale":{"domain":["f","o","x"],"range":["black","white","white"]},"legend":null},"strokeWidth":{"field":"s","type":"ordinal","scale":{"domain":["f","o","x"],"range":[1,2.2,2]},"legend":null}}},
  {"transform":[{"filter":"datum.k==='m'"}],"mark":{"type":"text","align":"left","baseline":"middle","font":"DejaVu Serif","fontSize":22,"color":"black"},"encoding":{"text":{"field":"txt","type":"nominal"}}},
  {"transform":[{"filter":"datum.k==='s'"}],"mark":{"type":"text","align":"left","baseline":"middle","font":"DejaVu Serif","fontSize":15,"color":"black"},"encoding":{"text":{"field":"txt","type":"nominal"}}}
 ]},
{"width":275,"height":222,"data":{"name":"d"},"transform":[{"filter":"datum.p==='D2'"}],
 "encoding":{"x":{"field":"t","type":"quantitative","scale":{"domain":[0,130],"nice":false,"zero":false},"axis":{"values":[0,30,60,90,120],"labelFont":"Liberation Serif","labelFontSize":21,"title":"Time [min]","titleFont":"DejaVu Serif","titleFontWeight":"normal","titleFontSize":22,"titleX":146,"titleY":78,"titleBaseline":"alphabetic"}},
  "y":{"field":"v","type":"quantitative","scale":{"domain":[0,100],"nice":false,"zero":false},"axis":{"values":[0,20,40,60,80,100],"labels":false,"title":null}}},
 "layer":[
  {"transform":[{"filter":"datum.k==='c'"}],"mark":{"type":"line","interpolate":"monotone","color":"black","strokeWidth":2.2},"encoding":{"detail":{"field":"s","type":"nominal"}}},
  {"transform":[{"filter":"datum.k==='p'"}],"mark":{"type":"point","filled":true,"size":190,"stroke":"black","opacity":1,"strokeOpacity":1,"fillOpacity":1},"encoding":{"shape":{"field":"s","type":"nominal","scale":{"domain":["f","o","x"],"range":["circle","circle","M-1,0A1,1,0,1,0,1,0A1,1,0,1,0,-1,0ZM-0.8,0H0.8M0,-0.8V0.8"]},"legend":null},"fill":{"field":"s","type":"nominal","scale":{"domain":["f","o","x"],"range":["black","white","white"]},"legend":null},"strokeWidth":{"field":"s","type":"ordinal","scale":{"domain":["f","o","x"],"range":[1,2.2,2]},"legend":null}}},
  {"transform":[{"filter":"datum.k==='m'"}],"mark":{"type":"text","align":"left","baseline":"middle","font":"DejaVu Serif","fontSize":22,"color":"black"},"encoding":{"text":{"field":"txt","type":"nominal"}}},
  {"transform":[{"filter":"datum.k==='s'"}],"mark":{"type":"text","align":"left","baseline":"middle","font":"DejaVu Serif","fontSize":15,"color":"black"},"encoding":{"text":{"field":"txt","type":"nominal"}}}
 ]}
]
}
